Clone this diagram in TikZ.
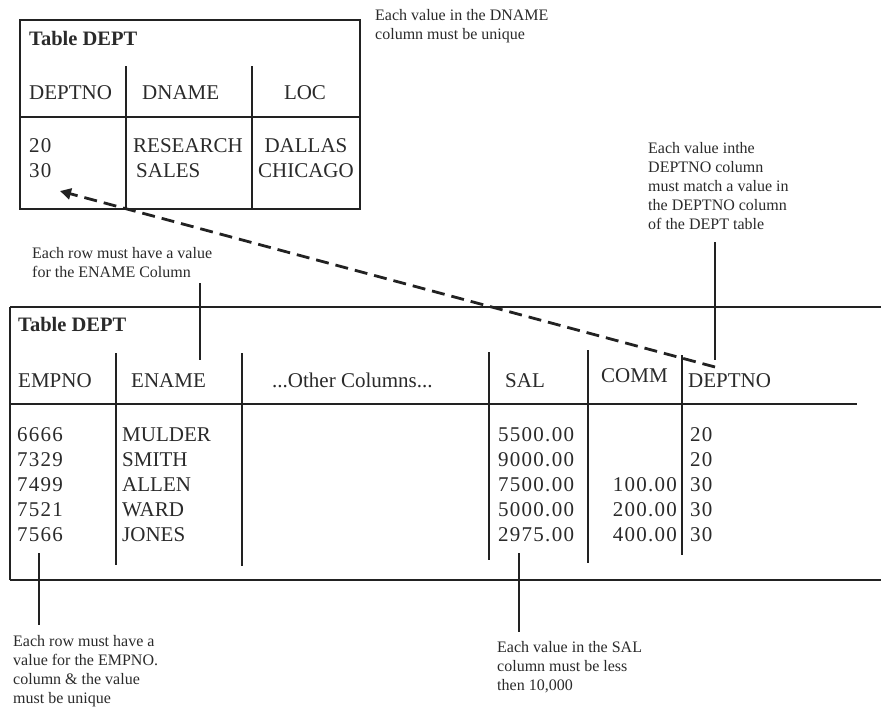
\documentclass[tikz,border=0pt]{standalone}
\usepackage{fontspec}
\setmainfont{Liberation Serif}
\newfontfamily\digitfont[LetterSpace=6]{Liberation Serif}
\usetikzlibrary{arrows.meta}
% stacked lines of text whose baseline is that of the first line
\newcommand\colstackl[1]{\begin{tabular}[t]{@{}l@{}}#1\end{tabular}}
\newcommand\colstackr[1]{\begin{tabular}[t]{@{}r@{}}#1\end{tabular}}
\newcommand\colstackc[1]{\begin{tabular}[t]{@{}c@{}}#1\end{tabular}}
\definecolor{ink}{HTML}{222222}
\definecolor{txt}{HTML}{2A2A2A}
\begin{document}
\begin{tikzpicture}[x=1pt,y=-1pt,
  rule/.style={line width=2.8pt, draw=ink},
  leader/.style={line width=2.8pt, draw=ink},
  fk/.style={line width=2.8pt, draw=ink, dash pattern=on 13pt off 7pt,
             -{Triangle[length=11pt,width=11pt]}},
  cell/.style={anchor=base west, inner sep=0pt, text=txt,
               font=\fontsize{21}{25}\selectfont},
  cellc/.style={cell, anchor=base},
  cellr/.style={cell, anchor=base east},
  num/.style={cell, font=\fontsize{21}{25}\digitfont},
  numr/.style={cellr, font=\fontsize{21}{25}\digitfont},
  title/.style={anchor=base west, inner sep=0pt, text=txt,
                font=\fontsize{20.5}{24}\selectfont\bfseries},
  note/.style={anchor=base west, inner sep=0pt, text=txt,
               font=\fontsize{16}{19}\selectfont}
]
\useasboundingbox (0,0) rectangle (881,707);

% ---------- table DEPT (top) ----------
\draw[rule] (20,20) rectangle (360,209);
\draw[rule] (20,117) -- (360,117);
\draw[rule] (126,66) -- (126,209);
\draw[rule] (252,66) -- (252,209);

\node[title] (t1title) at (29,45) {Table DEPT};
\node[cell]  (t1h1) at (29,99) {DEPTNO};
\node[cell]  (t1h2) at (142,99) {DNAME};
\node[cellc] (t1h3) at (305,99) {LOC};
\node[num]   (t1c1) at (29,152) {\colstackl{20\\30}};
\node[cell]  (t1c2) at (133,152) {\colstackl{RESEARCH\\\hspace{3pt}SALES}};
\node[cellc] (t1c3) at (306,152) {\colstackc{DALLAS\\CHICAGO}};

% ---------- table (bottom) ----------
\draw[rule] (10,307) -- (881,307);
\draw[rule] (10,307) -- (10,580);
\draw[rule] (10,580) -- (881,580);
\draw[rule] (10,404) -- (857,404);
\draw[rule] (116,353) -- (116,565);
\draw[rule] (242,353) -- (242,566);
\draw[rule] (489,352) -- (489,560);
\draw[rule] (588,350) -- (588,563);
\draw[rule] (682,355) -- (682,555);

\node[title] (t2title) at (18,331) {Table DEPT};
\node[cell] (t2h1) at (18,387) {EMPNO};
\node[cell] (t2h2) at (131,387) {ENAME};
\node[cell] (t2h3) at (272,387) {...Other Columns...};
\node[cell] (t2h4) at (505,387) {SAL};
\node[cell] (t2h5) at (601,382) {COMM};
\node[cell] (t2h6) at (688,387) {DEPTNO};

\node[num]  (t2c1) at (17,441) {\colstackl{6666\\7329\\7499\\7521\\7566}};
\node[cell] (t2c2) at (122,441) {\colstackl{MULDER\\SMITH\\ALLEN\\WARD\\JONES}};
\node[num]  (t2c4) at (498,441) {\colstackl{5500.00\\9000.00\\7500.00\\5000.00\\2975.00}};
\node[numr] (t2c5) at (677,441) {\colstackr{\\\\100.00\\200.00\\400.00}};
\node[num]  (t2c6) at (690,441) {\colstackl{20\\20\\30\\30\\30}};

% ---------- notes ----------
\node[note] (nDname) at (375,20) {\colstackl{Each value in the DNAME\\column must be unique}};
\node[note] (nFk) at (648,153) {\colstackl{Each value inthe\\DEPTNO column\\must match a value in\\the DEPTNO column\\of the DEPT table}};
\node[note] (nEname) at (32,258) {\colstackl{Each row must have a value\\for the ENAME Column}};
\node[note] (nEmpno) at (13,646) {\colstackl{Each row must have a\\value for the EMPNO.\\column \& the value\\must be unique}};
\node[note] (nSal) at (497,652) {\colstackl{Each value in the SAL\\column must be less\\then 10,000}};

% ---------- leader lines ----------
\coordinate (enameA) at (200,283);
\coordinate (enameB) at (200,360);
\coordinate (fkA) at (715,242);
\coordinate (fkB) at (715,360);
\coordinate (empA) at (39,553);
\coordinate (empB) at (39,625);
\coordinate (salA) at (519,553);
\coordinate (salB) at (519,632);
\draw[leader] (enameA) -- (enameB);
\draw[leader] (fkA) -- (fkB);
\draw[leader] (empA) -- (empB);
\draw[leader] (salA) -- (salB);

% ---------- foreign key reference ----------
\coordinate (fkFrom) at (715,367);
\coordinate (fkTo) at (60,191);
\draw[fk] (fkFrom) -- (fkTo);
\end{tikzpicture}
\end{document}
